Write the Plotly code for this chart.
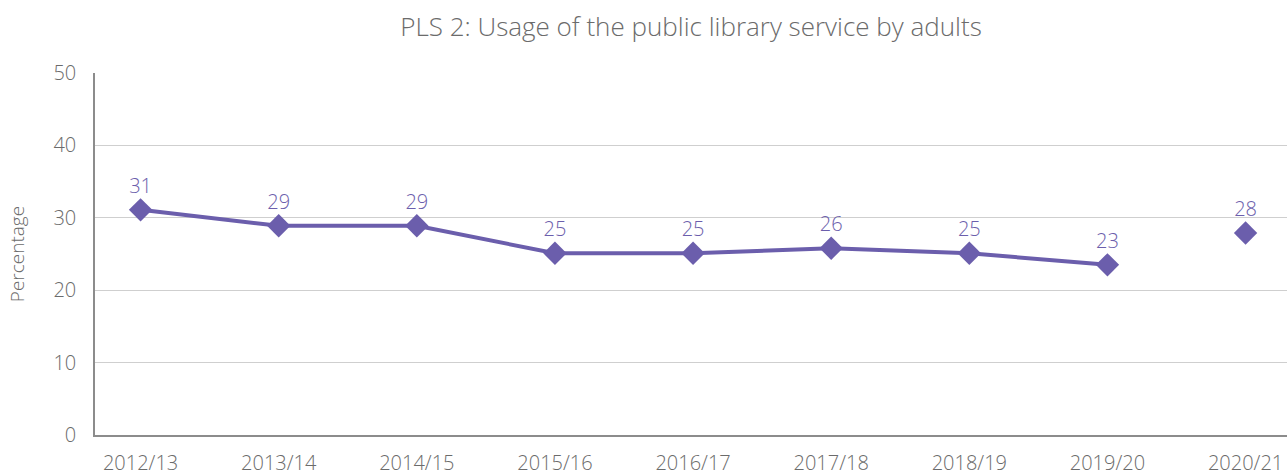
import plotly.graph_objects as go

categories = ["2012/13", "2013/14", "2014/15", "2015/16", "2016/17",
              "2017/18", "2018/19", "2019/20", "2020/21"]
values = [31.1, 28.9, 28.9, 25.1, 25.1, 25.8, 25.1, 23.5, 27.9]
labels = ["31", "29", "29", "25", "25", "26", "25", "23", "28"]

purple = "#6B5EAC"
grey = "#6b6b6b"
font = "Open Sans"

fig = go.Figure()
fig.add_trace(go.Scatter(
    x=categories[:8], y=values[:8], text=labels[:8],
    mode="lines+markers+text", textposition="top center",
    line=dict(color=purple, width=4),
    marker=dict(symbol="diamond", size=18, color=purple),
    textfont=dict(color=purple, size=20, family=font, weight=300),
    cliponaxis=False, showlegend=False,
))
fig.add_trace(go.Scatter(
    x=categories[8:], y=values[8:], text=labels[8:],
    mode="markers+text", textposition="top center",
    marker=dict(symbol="diamond", size=18, color=purple),
    textfont=dict(color=purple, size=20, family=font, weight=300),
    cliponaxis=False, showlegend=False,
))

fig.update_layout(
    width=1287, height=475,
    margin=dict(l=95, r=0, t=73, b=40, autoexpand=False),
    paper_bgcolor="white", plot_bgcolor="white",
    font=dict(family=font, color=grey, weight=300),
    title=dict(text="PLS 2: Usage of the public library service by adults",
               x=0.5, xref="paper", xanchor="center",
               y=1 - 27 / 475, yref="container", yanchor="middle",
               font=dict(size=26, color=grey, family=font, weight=300)),
    xaxis=dict(type="category", categoryorder="array", categoryarray=categories,
               range=[-0.33, 8.3], showgrid=False, automargin=False,
               showline=True, linecolor="#8c8c8c", linewidth=1.5,
               ticks="outside", ticklen=9, tickcolor="rgba(0,0,0,0)",
               tickfont=dict(size=20, color=grey, family=font, weight=300)),
    yaxis=dict(range=[0, 50], tickvals=[0, 10, 20, 30, 40, 50],
               showgrid=True, gridcolor="#cfcfcf", gridwidth=1,
               showline=True, linecolor="#8c8c8c", linewidth=1.5,
               zeroline=False, automargin=False,
               ticks="outside", ticklen=13, tickcolor="rgba(0,0,0,0)",
               tickfont=dict(size=20, color=grey, family=font, weight=300),
               title=dict(text="Percentage", standoff=24,
                          font=dict(size=19, color=grey, family=font, weight=300))),
)

fig.write_html("out.html", config={"displayModeBar": False},
               post_script="document.body.style.margin='0';document.body.style.overflow='hidden';")
